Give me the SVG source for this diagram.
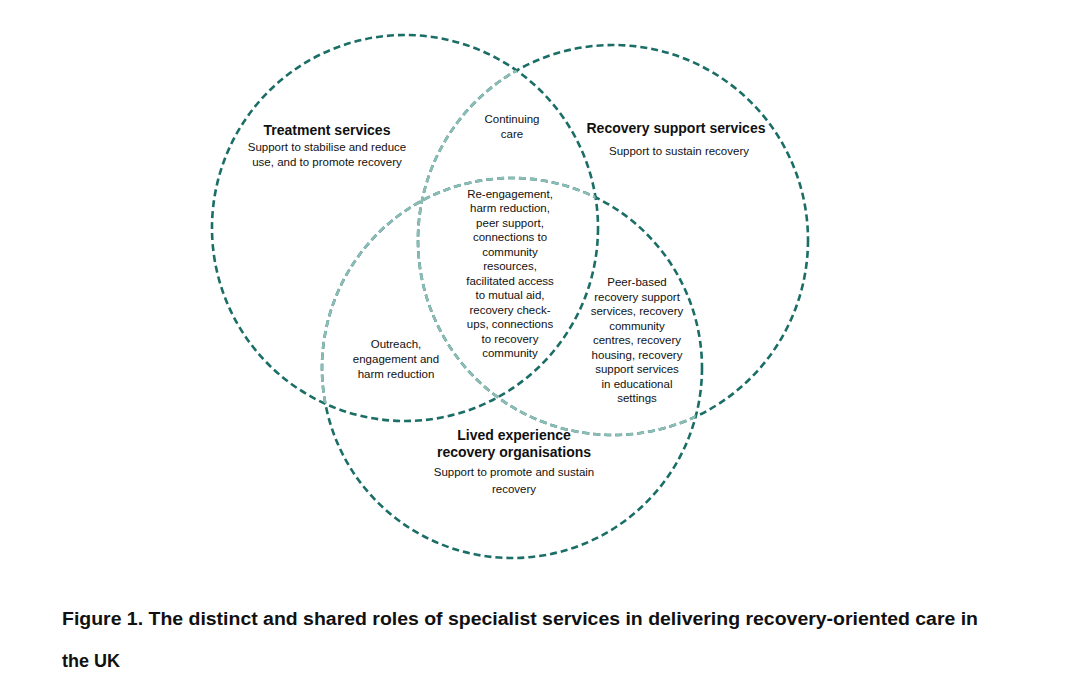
<svg xmlns="http://www.w3.org/2000/svg" width="1072" height="695" viewBox="0 0 1072 695">
<style>
.c{fill:none;stroke-width:2.6;stroke-dasharray:7 4}
.d{stroke:#1b6e66}.l{stroke:#8cbcb6}
text{font-family:"Liberation Sans",Arial,sans-serif;fill:#111;text-anchor:middle}
.t{font-size:14px;font-weight:bold}.s{font-size:11.5px}
.cap{font-size:18px;font-weight:bold;text-anchor:start}
</style>
<defs>
<clipPath id="in1"><circle cx="405" cy="228" r="193"/></clipPath>
<clipPath id="in13"><circle cx="405" cy="228" r="193"/><circle cx="512" cy="368" r="190"/></clipPath>
</defs>
<rect width="1072" height="695" fill="#fff"/>
<g id="connectors">
<circle class="c d" cx="405" cy="228" r="193"/>
<circle class="c d" cx="613" cy="240" r="195"/>
<circle class="c d" cx="512" cy="368" r="190"/>
<circle class="c l" cx="613" cy="240" r="195" clip-path="url(#in13)"/>
<circle class="c l" cx="512" cy="368" r="190" clip-path="url(#in1)"/>
</g>
<g id="treatment"><text class="t" x="327" y="135">Treatment services</text>
<text class="s" x="327" y="151">Support to stabilise and reduce</text><text class="s" x="327" y="166">use, and to promote recovery</text></g>
<g id="recovery-support"><text class="t" x="676" y="133">Recovery support services</text>
<text class="s" x="679" y="155">Support to sustain recovery</text></g>
<g id="lived"><text class="t" x="514" y="440">Lived experience</text><text class="t" x="514" y="457">recovery organisations</text>
<text class="s" x="514" y="476">Support to promote and sustain</text><text class="s" x="514" y="493">recovery</text></g>
<g id="continuing"><text class="s" x="512" y="123">Continuing</text><text class="s" x="512" y="138">care</text></g>
<g id="outreach"><text class="s" x="396" y="348">Outreach,</text><text class="s" x="396" y="363">engagement and</text><text class="s" x="396" y="378">harm reduction</text></g>
<g id="peer"><text class="s" x="637" y="286">Peer-based</text><text class="s" x="637" y="301">recovery support</text><text class="s" x="637" y="315">services, recovery</text><text class="s" x="637" y="330">community</text><text class="s" x="637" y="344">centres, recovery</text><text class="s" x="637" y="359">housing, recovery</text><text class="s" x="637" y="373">support services</text><text class="s" x="637" y="388">in educational</text><text class="s" x="637" y="402">settings</text></g>
<g id="centre"><text class="s" x="510" y="198">Re-engagement,</text><text class="s" x="510" y="212">harm reduction,</text><text class="s" x="510" y="227">peer support,</text><text class="s" x="510" y="241">connections to</text><text class="s" x="510" y="256">community</text><text class="s" x="510" y="270">resources,</text><text class="s" x="510" y="285">facilitated access</text><text class="s" x="510" y="299">to mutual aid,</text><text class="s" x="510" y="314">recovery check-</text><text class="s" x="510" y="328">ups, connections</text><text class="s" x="510" y="343">to recovery</text><text class="s" x="510" y="357">community</text></g>
<g id="caption"><text class="cap" x="62" y="625" textLength="916" lengthAdjust="spacingAndGlyphs">Figure 1. The distinct and shared roles of specialist services in delivering recovery-oriented care in</text>
<text class="cap" x="62" y="667">the UK</text></g>
</svg>
